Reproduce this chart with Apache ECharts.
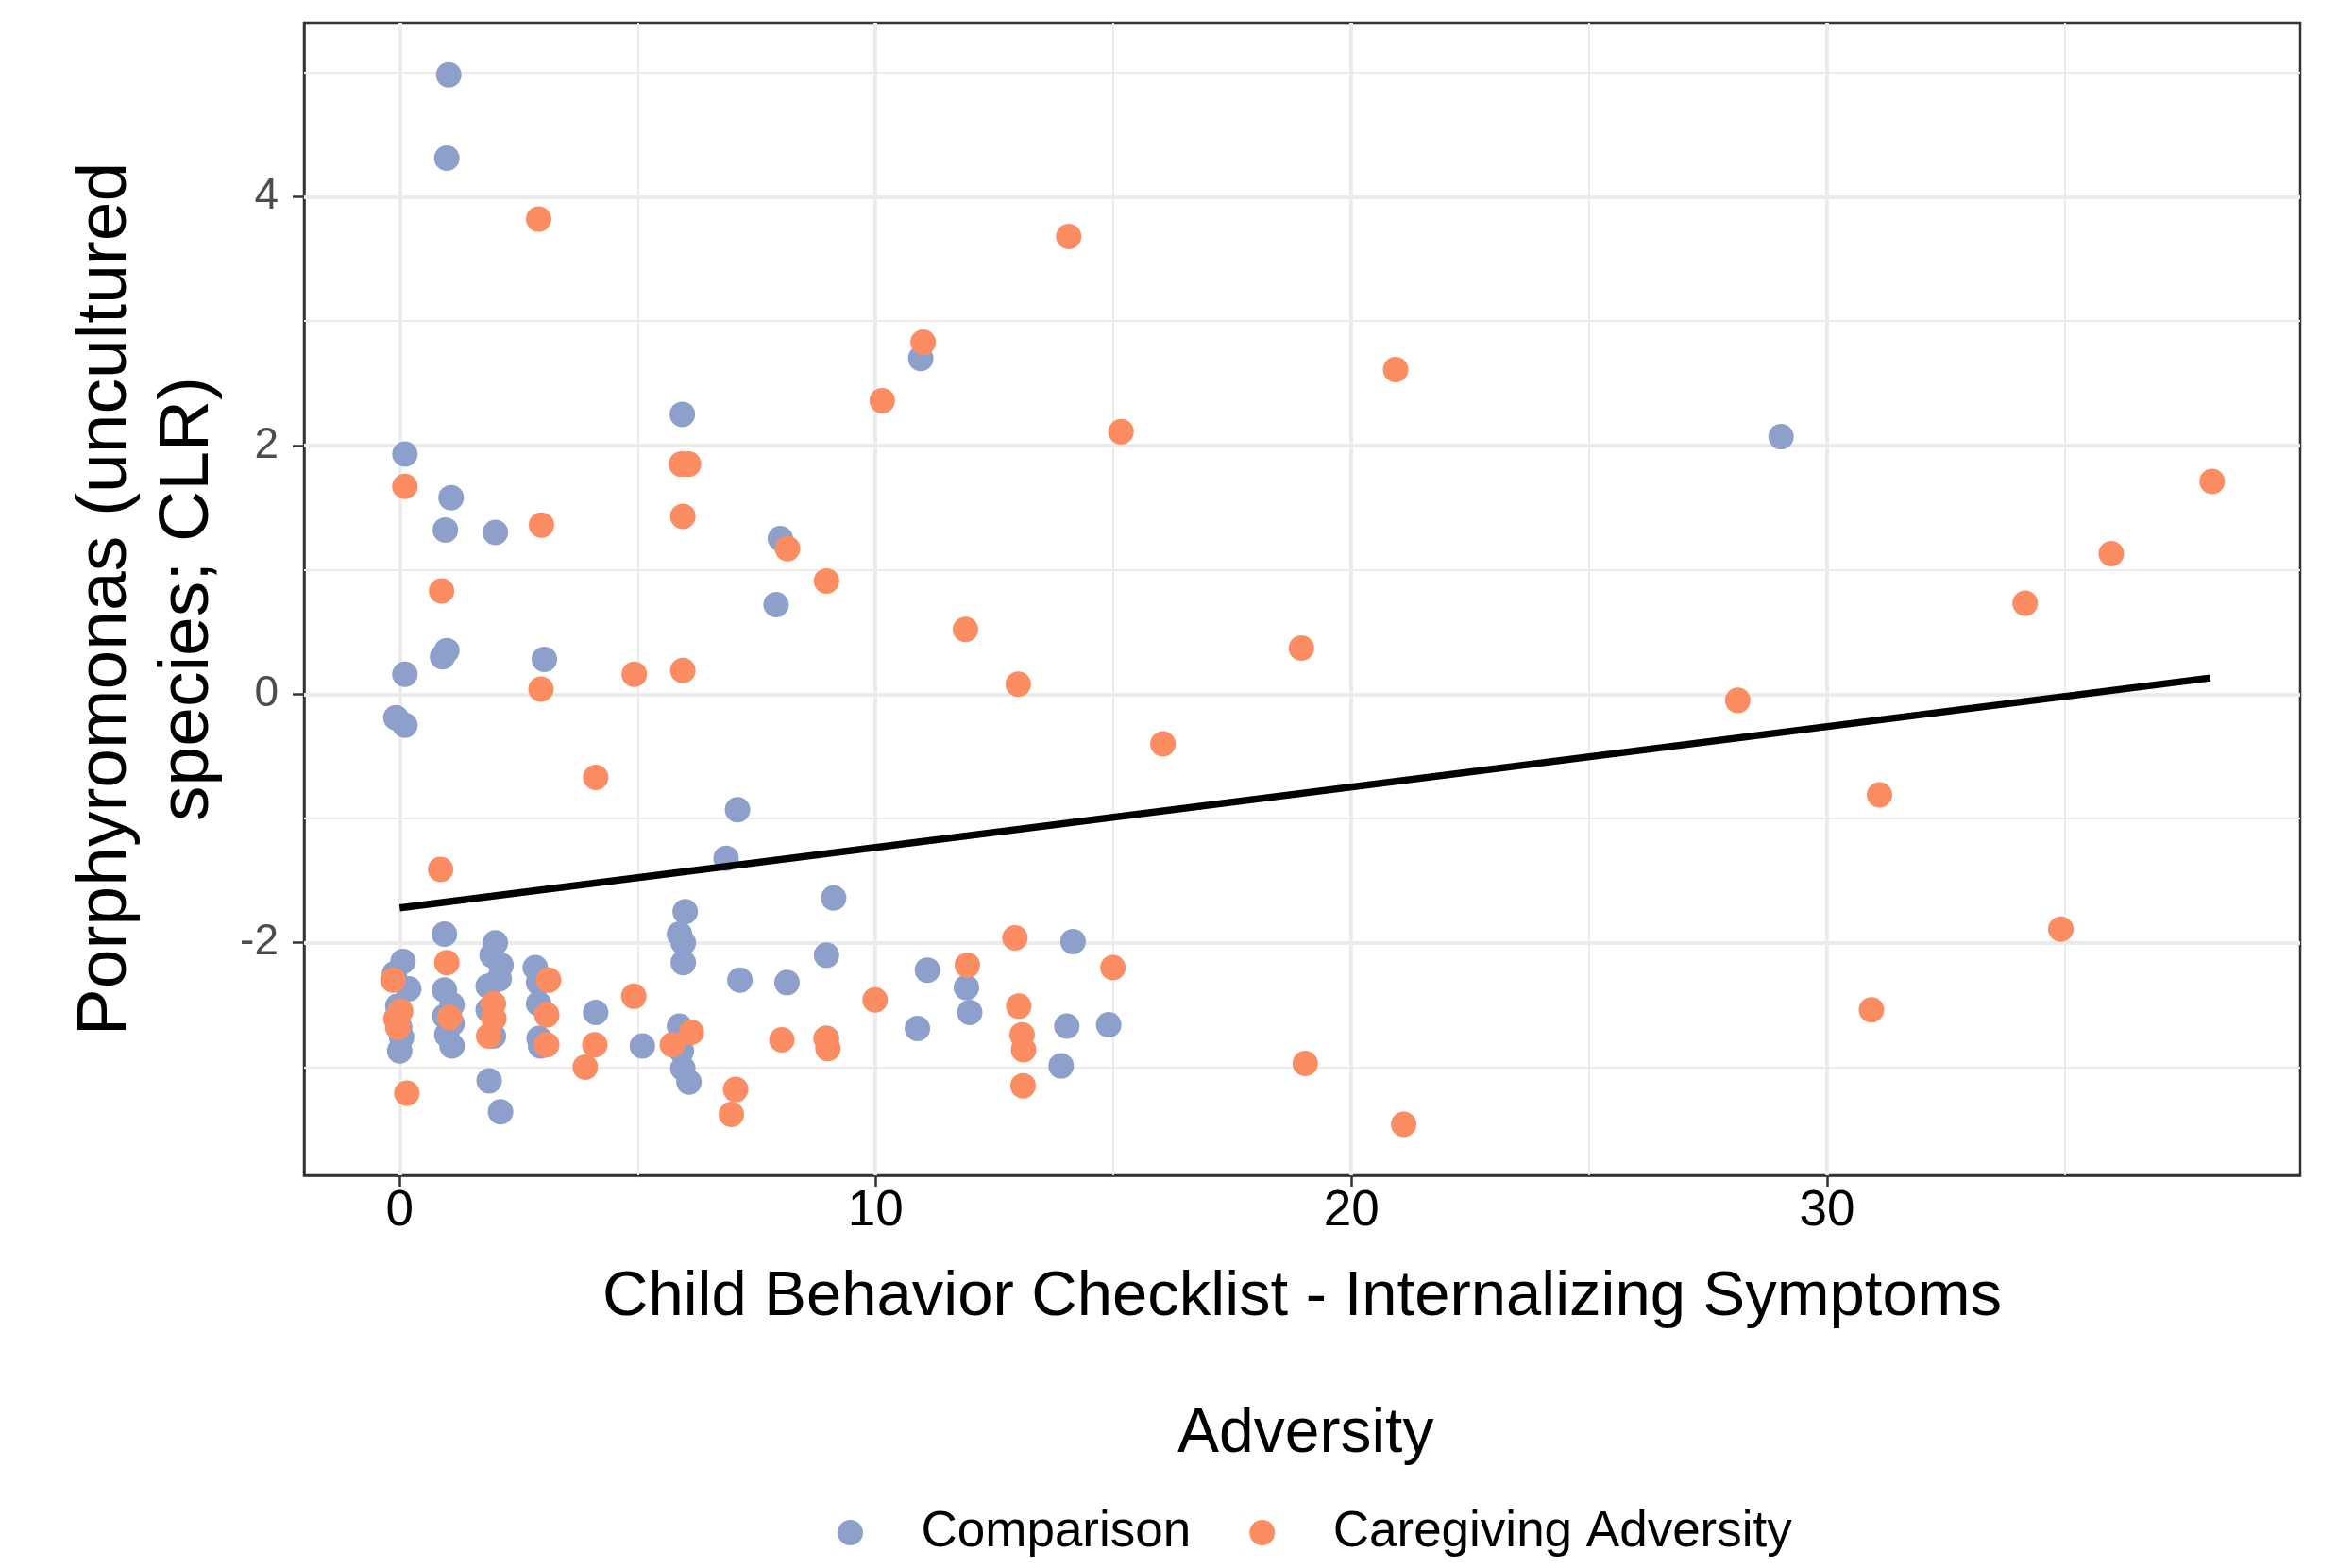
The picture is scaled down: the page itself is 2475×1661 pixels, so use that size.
<!DOCTYPE html>
<html>
<head>
<meta charset="utf-8">
<script src="https://cdn.jsdelivr.net/npm/echarts@6/dist/echarts.min.js"></script>
<style>
  html, body { margin: 0; padding: 0; background: #fff; }
  #chart { width: 2475px; height: 1661px; }
</style>
</head>
<body>
<div id="chart"></div>
<script>
// Comparison group (x = CBCL internalizing, y = CLR)
var compX = [1.03, 0.99, 0.11, 1.08, 0.96, 2.01, 0.99, 0.90, 0.11, 3.04, -0.08, 0.11, 5.94, 10.95, 8.0, 7.91, 7.1, 6.86, 9.12, 6.0, 29.03,
  0.94, 0.07, 2.01, 1.94, 2.13, 2.09, 1.86, 2.85, 2.92, 2.92, 2.96, 2.93, 0.19, -0.11, -0.04, 0.0, 0.04, 0.0, 0.94, 1.1, 0.95, 1.1, 0.99, 1.1,
  1.86, 1.97, 4.12, 5.1, 7.15, 8.14, 8.97, 8.97, 5.88, 5.96, 5.96, 5.88, 5.92, 5.95, 6.08, 1.88, 2.12, 11.09, 11.91, 11.98, 10.88, 14.15, 14.02, 14.90, 13.9]
var compY = [4.98, 4.31, 1.93, 1.58, 1.32, 1.30, 0.35, 0.30, 0.16, 0.28, -0.19, -0.25, 2.25, 2.70, 1.25, 0.72, -0.93, -1.32, -1.64, -1.75, 2.07,
  -1.93, -2.15, -2.0, -2.10, -2.18, -2.29, -2.35, -2.20, -2.32, -2.49, -2.83, -2.77, -2.37, -2.25, -2.51, -2.68, -2.76, -2.87, -2.38, -2.5, -2.59, -2.65, -2.74, -2.83,
  -2.54, -2.75, -2.56, -2.83, -2.30, -2.32, -2.77, -2.10, -1.93, -2.0, -2.16, -2.67, -2.87, -3.01, -3.12, -3.11, -3.36, -2.22, -2.36, -2.56, -2.69, -1.99, -2.67, -2.66, -2.99]

// Caregiving adversity group
var careX = [2.92, 14.06, 11.0, 20.93, 10.14, 15.16, 5.92, 6.07, 38.09, 0.11, 2.98, 5.95, 35.97, 8.15, 8.97, 0.88, 34.16, 11.89, 18.95, 2.97, 4.93, 5.95, 13.0,
  28.12, 16.04, 4.12, 31.1, 0.86, 34.91, 12.93, 11.93, 14.99, 0.99, -0.14, 3.13, 4.92, 9.99, 0.02, -0.08, -0.04, 13.01, 13.08, 13.11, 13.1, 30.93, 19.03, 21.1,
  6.13, 5.73, 8.03, 8.96, 9.0, 3.9, 4.1, 7.06, 6.97, 0.15, 3.09, 3.09, 1.97, 1.98, 1.87, 1.05]
var careY = [3.82, 3.68, 2.83, 2.61, 2.36, 2.11, 1.85, 1.85, 1.71, 1.67, 1.36, 1.43, 1.13, 1.17, 0.91, 0.83, 0.73, 0.52, 0.37, 0.04, 0.16, 0.19, 0.08,
  -0.05, -0.40, -0.67, -0.81, -1.41, -1.89, -1.96, -2.18, -2.20, -2.16, -2.30, -2.30, -2.43, -2.46, -2.55, -2.61, -2.68, -2.51, -2.74, -2.86, -3.15, -2.54, -2.97, -3.46,
  -2.72, -2.82, -2.78, -2.77, -2.85, -3.0, -2.82, -3.18, -3.38, -3.21, -2.58, -2.82, -2.49, -2.61, -2.75, -2.6]

// linear fit end points
var fitX = [0, 38.05]
var fitY = [-1.72, 0.13]

var xTicks = [0, 10, 20, 30]
var yTicks = [-2, 0, 2, 4]
var xMinor = [5, 15, 25, 35]
var yMinor = [-3, -1, 1, 3, 5]

function pairs(xs, ys) {
  var out = []
  for (var i = 0; i < xs.length; i++) out.push([xs[i], ys[i]])
  return out
}

function gridLines(key, values, width) {
  return values.map(function (v) {
    var d = {}
    d[key] = v
    d.lineStyle = { width: width }
    return d
  })
}

var font = 'Liberation Sans, Arial, sans-serif'
var myChart = echarts.init(document.getElementById('chart'), null, { renderer: 'canvas' })

var option = {
  backgroundColor: '#ffffff',
  animation: false,
  textStyle: { fontFamily: font },
  title: {
    text: 'Adversity',
    left: 1242,
    top: 1482,
    textStyle: { fontSize: 66, fontWeight: 'normal', color: '#000', fontFamily: font }
  },
  legend: {
    data: ['Comparison', 'Caregiving Adversity'],
    left: 882,
    top: 1592,
    icon: 'circle',
    itemWidth: 140,
    itemHeight: 27,
    itemGap: 62,
    textStyle: { fontSize: 53, color: '#000', fontFamily: font }
  },
  grid: {
    left: 322, top: 24, width: 2114, height: 1221,
    show: true, borderColor: '#333333', borderWidth: 2.5, backgroundColor: '#fff'
  },
  xAxis: {
    type: 'value',
    min: -2.01, max: 39.94,
    name: 'Child Behavior Checklist - Internalizing Symptoms',
    nameLocation: 'middle',
    nameGap: 96,
    nameTextStyle: { fontSize: 67, color: '#000', fontFamily: font },
    axisLine: { show: true, onZero: false, lineStyle: { color: '#333333', width: 2.5 } },
    axisTick: { show: true, customValues: xTicks, length: 12, lineStyle: { color: '#333333', width: 2.5 } },
    axisLabel: { customValues: xTicks, fontSize: 53, color: '#000', margin: 12, fontFamily: font },
    splitLine: { show: false }
  },
  yAxis: {
    type: 'value',
    min: -3.87, max: 5.40,
    name: 'Porphyromonas (uncultured\nspecies; CLR)',
    nameLocation: 'middle',
    nameRotate: 90,
    nameGap: 76,
    nameTextStyle: { fontSize: 75, lineHeight: 87, color: '#000', align: 'center', fontFamily: font },
    axisLine: { show: true, onZero: false, lineStyle: { color: '#333333', width: 2.5 } },
    axisTick: { show: true, customValues: yTicks, length: 12, lineStyle: { color: '#333333', width: 2.5 } },
    axisLabel: { customValues: yTicks, fontSize: 46, color: '#4d4d4d', margin: 27, fontFamily: font },
    splitLine: { show: false }
  },
  series: [
    {
      // panel grid, major and minor
      name: 'grid',
      type: 'scatter',
      data: [],
      silent: true,
      z: 1,
      markLine: {
        silent: true,
        z: 1,
        symbol: ['none', 'none'],
        label: { show: false },
        lineStyle: { color: '#ebebeb', type: 'solid' },
        data: gridLines('xAxis', xMinor, 2).concat(gridLines('yAxis', yMinor, 2))
          .concat(gridLines('xAxis', xTicks, 4)).concat(gridLines('yAxis', yTicks, 4))
      }
    },
    {
      name: 'Comparison',
      type: 'scatter',
      data: pairs(compX, compY),
      symbolSize: 27,
      z: 3,
      itemStyle: { color: '#8DA0CB', opacity: 1 }
    },
    {
      name: 'Caregiving Adversity',
      type: 'scatter',
      data: pairs(careX, careY),
      symbolSize: 27,
      z: 3,
      itemStyle: { color: '#FC8D62', opacity: 1 }
    },
    {
      name: 'fit',
      type: 'line',
      data: pairs(fitX, fitY),
      showSymbol: false,
      symbol: 'none',
      z: 4,
      lineStyle: { color: '#000', width: 7.5 }
    }
  ]
}

myChart.setOption(option)
</script>
</body>
</html>
